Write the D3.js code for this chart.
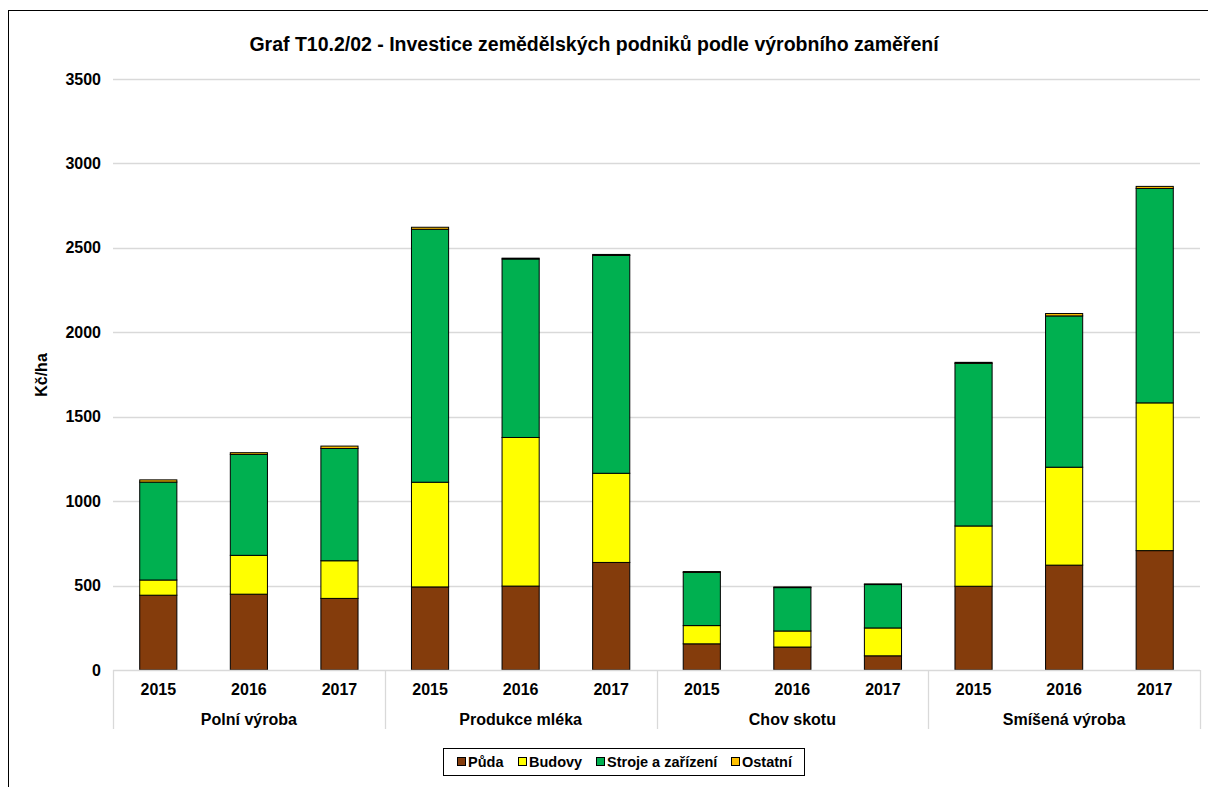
<!DOCTYPE html>
<html>
<head>
<meta charset="utf-8">
<script src="https://cdn.jsdelivr.net/npm/d3@7"></script>
<style>
  body { margin: 0; background: #fff; }
  svg { display: block; font-family: "Liberation Sans", Arial, sans-serif; }
</style>
</head>
<body>
<script>
const groups = ["Polní výroba", "Produkce mléka", "Chov skotu", "Smíšená výroba"];
const years = ["2015", "2016", "2017"];
const seriesNames = ["Půda", "Budovy", "Stroje a zařízení", "Ostatní"];
const seriesColors = ["#843C0C", "#FFFF00", "#00B050", "#FFC000"];

// values per bar, order: groups x years
const puda    = [443, 449, 424, 492, 497, 637, 155, 136, 84, 496, 621, 707];
const budovy  = [90, 230, 223, 620, 880, 528, 108, 95, 165, 357, 580, 875];
const stroje  = [580, 598, 665, 1498, 1057, 1290, 315, 257, 257, 963, 896, 1270];
const ostatni = [13, 10, 14, 12, 5, 6, 5, 4, 4, 6, 14, 12];
const yTicks = [0, 500, 1000, 1500, 2000, 2500, 3000, 3500];

const W = 1208, H = 787;
const plotL = 113, plotR = 1200, plotT = 79, plotB = 670;

const rows = [];
groups.forEach((g, gi) => years.forEach((yr, yi) => {
  const i = gi * 3 + yi;
  rows.push({ key: g + "|" + yr, group: g, year: yr,
    "Půda": puda[i], "Budovy": budovy[i], "Stroje a zařízení": stroje[i], "Ostatní": ostatni[i] });
}));

const svg = d3.select("body").append("svg").attr("width", W).attr("height", H);

// outer chart border
svg.append("rect").attr("x", 8.5).attr("y", 10.5).attr("width", W + 20).attr("height", H + 20)
  .attr("fill", "none").attr("stroke", "#000").attr("stroke-width", 1);

svg.append("text").attr("x", 594).attr("y", 51).attr("text-anchor", "middle")
  .attr("font-size", 19.5).attr("font-weight", "bold")
  .text("Graf T10.2/02 - Investice zemědělských podniků podle výrobního zaměření");

const y = d3.scaleLinear().domain([0, 3500]).range([plotB, plotT]);
const x = d3.scaleBand().domain(rows.map(d => d.key)).range([plotL, plotR])
  .paddingInner(0.59).paddingOuter(0.295);
const gx = d3.scaleBand().domain(groups).range([plotL, plotR]);

// gridlines
svg.append("g").selectAll("line").data(yTicks.filter(t => t > 0)).join("line")
  .attr("x1", plotL).attr("x2", plotR)
  .attr("y1", d => Math.round(y(d)) + 0.5).attr("y2", d => Math.round(y(d)) + 0.5)
  .attr("stroke", "#d9d9d9").attr("stroke-width", 1.3);

// y axis labels
const yAxis = svg.append("g").attr("transform", `translate(${plotL},0)`)
  .call(d3.axisLeft(y).tickValues(yTicks).tickFormat(d3.format("d")).tickSize(0).tickPadding(12));
yAxis.select(".domain").remove();
yAxis.selectAll("text").attr("font-size", 16).attr("font-weight", "bold")
  .attr("font-family", "Liberation Sans, Arial, sans-serif").attr("fill", "#000");

svg.append("text").attr("transform", "translate(47,375) rotate(-90)")
  .attr("text-anchor", "middle").attr("font-size", 16).attr("font-weight", "bold")
  .text("Kč/ha");

// stacked bars
const stack = d3.stack().keys(seriesNames)(rows);
svg.append("g").selectAll("g").data(stack).join("g")
  .attr("fill", (d, i) => seriesColors[i])
  .selectAll("rect").data(d => d).join("rect")
  .attr("x", d => x(d.data.key)).attr("width", x.bandwidth())
  .attr("y", d => y(d[1])).attr("height", d => y(d[0]) - y(d[1]))
  .attr("stroke", "#000").attr("stroke-width", 1);

// category axis
const xa = svg.append("g");
xa.append("line").attr("x1", plotL).attr("x2", plotR).attr("y1", plotB + 0.5).attr("y2", plotB + 0.5)
  .attr("stroke", "#d9d9d9").attr("stroke-width", 1.3);
const seps = groups.map(g => gx(g)).concat([plotR]);
xa.selectAll("line.sep").data(seps).join("line").attr("class", "sep")
  .attr("x1", d => Math.round(d) + 0.5).attr("x2", d => Math.round(d) + 0.5)
  .attr("y1", plotB).attr("y2", 729)
  .attr("stroke", "#d9d9d9").attr("stroke-width", 1.3);
xa.selectAll("text.yr").data(rows).join("text").attr("class", "yr")
  .attr("x", d => x(d.key) + x.bandwidth() / 2).attr("y", 695)
  .attr("text-anchor", "middle").attr("font-size", 16).attr("font-weight", "bold")
  .text(d => d.year);
xa.selectAll("text.grp").data(groups).join("text").attr("class", "grp")
  .attr("x", d => gx(d) + gx.bandwidth() / 2).attr("y", 725)
  .attr("text-anchor", "middle").attr("font-size", 16).attr("font-weight", "bold")
  .text(d => d);

// legend
const lg = svg.append("g");
lg.append("rect").attr("x", 443.5).attr("y", 748.5).attr("width", 361).attr("height", 27)
  .attr("fill", "#fff").attr("stroke", "#000").attr("stroke-width", 1);
const legX = [457, 518, 596, 731];
const items = lg.selectAll("g").data(seriesNames).join("g")
  .attr("transform", (d, i) => `translate(${legX[i]},762)`);
items.append("rect").attr("x", 0.5).attr("y", -4.5).attr("width", 8).attr("height", 8)
  .attr("fill", (d, i) => seriesColors[i]).attr("stroke", "#000").attr("stroke-width", 1);
items.append("text").attr("x", 11).attr("y", 5).attr("font-size", 14.5).attr("font-weight", "bold")
  .text(d => d);
</script>
</body>
</html>
